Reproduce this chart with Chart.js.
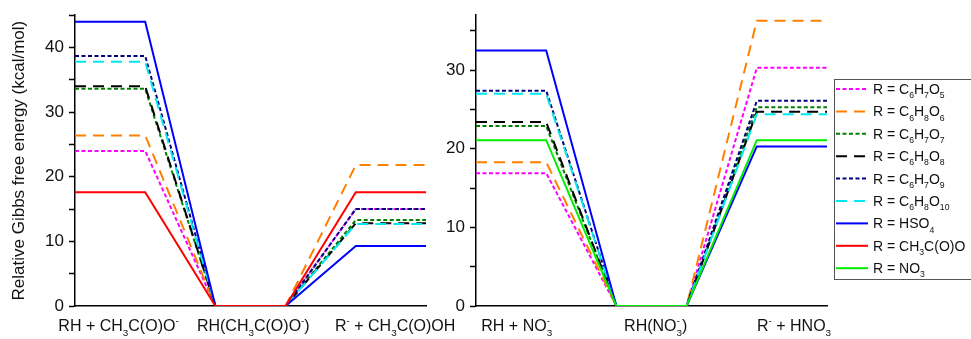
<!DOCTYPE html>
<html>
<head>
<meta charset="utf-8">
<script src="https://cdn.jsdelivr.net/npm/chart.js@4.4.1/dist/chart.umd.min.js"></script>
<style>
  html, body { margin: 0; padding: 0; background: #fff; }
  #wrap { position: relative; width: 971px; height: 339px; overflow: hidden; }
  canvas { position: absolute; top: 0; }
</style>
</head>
<body>
<div id="wrap">
  <canvas id="left" width="480" height="339" style="left:0"></canvas>
  <canvas id="right" width="531" height="339" style="left:440px"></canvas>
</div>
<script>
// _{..} = subscript, ^{..} = superscript
const seriesNames = [
  'R = C_{6}H_{7}O_{5}', 'R = C_{6}H_{8}O_{6}', 'R = C_{6}H_{7}O_{7}',
  'R = C_{6}H_{8}O_{8}', 'R = C_{6}H_{7}O_{9}', 'R = C_{6}H_{8}O_{10}',
  'R = HSO_{4}', 'R = CH_{3}C(O)O', 'R = NO_{3}'
];
const seriesColors = ['#ff00ff', '#ff8000', '#008000', '#000000', '#000080', '#00e8f0', '#0000ff', '#ff0000', '#00ee00'];
const shortDash = [4, 2.5];
const longDash = [11, 7];
const seriesDash = [shortDash, longDash, shortDash, longDash, shortDash, longDash, [], [], []];

// stage index of each point: reactant, reactant, complex, complex, product, product
const stageX = [0, 1, 2, 3, 4, 5];

// left panel: acetate radical
const leftLabels = ['RH + CH_{3}C(O)O^{-}', 'RH(CH_{3}C(O)O^{-})', 'R^{-} + CH_{3}C(O)OH'];
const leftLabelPos = [0.62, 2.54, 4.56];
const leftReactant = [24.0, 26.4, 33.6, 34.0, 38.7, 37.8, 44.0, 17.6, null];
const leftProduct  = [15.0, 21.8, 13.3, 12.8, 15.0, 12.7, 9.3, 17.6, null];

// right panel: nitrate radical
const rightLabels = ['RH + NO_{3}^{-}', 'RH(NO_{3}^{-})', 'R^{-} + HNO_{3}'];
const rightLabelPos = [0.58, 2.56, 4.53];
const rightReactant = [16.9, 18.3, 22.9, 23.4, 27.4, 27.0, 32.5, null, 21.1];
const rightProduct  = [30.3, 36.3, 25.3, 24.7, 26.1, 24.4, 20.3, null, 21.1];

const FONT = '"Liberation Sans", Arial, sans-serif';

function parseRich(str) {
  const parts = [];
  const re = /([_^])\{([^}]*)\}|([^_^]+)/g;
  let m;
  while ((m = re.exec(str))) {
    if (m[3]) parts.push({ t: m[3], k: 'n' });
    else parts.push({ t: m[2], k: m[1] === '_' ? 'sub' : 'sup' });
  }
  return parts;
}

function drawRich(ctx, str, x, y, size, align) {
  const small = size * 0.62;
  let w = 0, prev = null;
  const items = parseRich(str).map(p => {
    ctx.font = (p.k === 'n' ? size : small) + 'px ' + FONT;
    const pw = ctx.measureText(p.t).width;
    let px;
    if (p.k === 'sup' && prev && prev.k === 'sub') { px = prev.x; w = Math.max(w, px + pw); }
    else { px = w; w += pw; }
    const it = { t: p.t, k: p.k, x: px };
    prev = it;
    return it;
  });
  const x0 = align === 'center' ? x - w / 2 : x;
  ctx.save();
  ctx.fillStyle = '#111';
  ctx.textAlign = 'left';
  ctx.textBaseline = 'alphabetic';
  items.forEach(it => {
    ctx.font = (it.k === 'n' ? size : small) + 'px ' + FONT;
    const dy = it.k === 'sub' ? size * 0.3 : it.k === 'sup' ? -size * 0.42 : 0;
    ctx.fillText(it.t, x0 + it.x, y + dy);
  });
  ctx.restore();
}

function buildDatasets(reactant, product) {
  const sets = [];
  seriesNames.forEach((name, i) => {
    if (reactant[i] === null) return;
    const ys = [reactant[i], reactant[i], 0, 0, product[i], product[i]];
    sets.push({
      label: name,
      data: stageX.map((x, k) => ({ x: x, y: ys[k] })),
      borderColor: seriesColors[i],
      borderDash: seriesDash[i],
      borderWidth: 2,
      pointRadius: 0,
      tension: 0,
      fill: false,
      order: -i // later series drawn on top
    });
  });
  return sets;
}

const xLabelPlugin = {
  id: 'xLabels',
  afterDraw(chart, args, opts) {
    const sx = chart.scales.x;
    opts.labels.forEach((lab, i) => {
      drawRich(chart.ctx, lab, sx.getPixelForValue(opts.pos[i]), 331, 16, 'center');
    });
  }
};

const legendPlugin = {
  id: 'richLegend',
  afterDraw(chart, args, opts) {
    if (!opts.show) return;
    const ctx = chart.ctx;
    const bx = 394, by = 79.5;
    ctx.save();
    ctx.strokeStyle = '#555';
    ctx.lineWidth = 1;
    ctx.strokeRect(bx + 0.5, by, 160, 200);
    seriesNames.forEach((name, i) => {
      const ry = 89 + i * 22.4;
      ctx.beginPath();
      ctx.strokeStyle = seriesColors[i];
      ctx.lineWidth = 2;
      ctx.setLineDash(seriesDash[i]);
      ctx.moveTo(396, ry);
      ctx.lineTo(428, ry);
      ctx.stroke();
      ctx.setLineDash([]);
      drawRich(ctx, name, 433, ry + 5, 14, 'left');
    });
    ctx.restore();
  }
};

function makeChart(id, reactant, product, yMax, labels, labelPos, yWidth, padRight, withTitle, withLegend) {
  return new Chart(document.getElementById(id), {
    type: 'line',
    data: { datasets: buildDatasets(reactant, product) },
    options: {
      responsive: false,
      animation: false,
      devicePixelRatio: 1,
      layout: { padding: { left: 0, right: padRight, top: 15, bottom: 0 } },
      plugins: {
        legend: { display: false },
        tooltip: { enabled: false },
        xLabels: { labels: labels, pos: labelPos },
        richLegend: { show: withLegend }
      },
      scales: {
        x: {
          type: 'linear',
          min: 0,
          max: 5,
          ticks: { display: false },
          grid: { display: false },
          border: { color: '#000', width: 1.5 },
          afterFit(scale) { scale.height = 33; }
        },
        y: {
          min: 0,
          max: yMax,
          ticks: {
            stepSize: 5,
            includeBounds: false,
            color: '#111',
            padding: 5,
            font: { family: FONT, size: 17 },
            callback: v => (v % 10 === 0 ? v : '')
          },
          grid: { drawOnChartArea: false, tickLength: 6, tickColor: '#000', tickWidth: 1.5 },
          border: { color: '#000', width: 1.5 },
          title: {
            display: withTitle,
            text: 'Relative Gibbs free energy (kcal/mol)',
            color: '#111',
            font: { family: FONT, size: 17 },
            padding: { top: 9, bottom: 0 }
          },
          afterFit(scale) { scale.width = yWidth; }
        }
      }
    },
    plugins: [xLabelPlugin, legendPlugin]
  });
}

makeChart('left', leftReactant, leftProduct, 45, leftLabels, leftLabelPos, 75, 54, true, false);
makeChart('right', rightReactant, rightProduct, 37, rightLabels, rightLabelPos, 36, 144, false, true);
</script>
</body>
</html>
